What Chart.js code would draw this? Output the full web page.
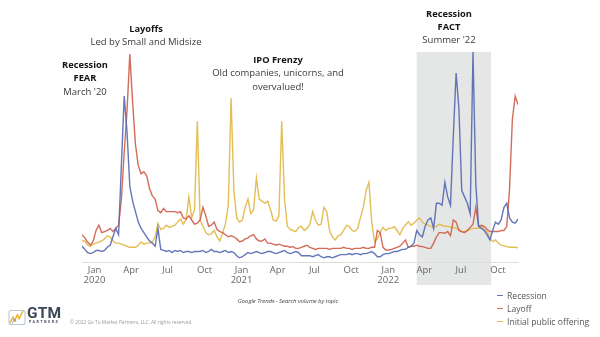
<!DOCTYPE html>
<html><head><meta charset="utf-8">
<script src="https://cdn.jsdelivr.net/npm/chart.js@4.4.0/dist/chart.umd.min.js"></script>
<style>
html,body{margin:0;padding:0;background:#fff;}
#wrap{position:relative;width:600px;height:337px;overflow:hidden;font-family:"Open Sans",sans-serif;}
#c{position:absolute;left:0;top:0;}
.ann{position:absolute;text-align:center;font-size:9.5px;line-height:13.4px;color:#3a3a3a;white-space:nowrap;transform:translateX(-50%);}
.ann b{color:#141414;font-weight:700;font-size:9.3px;}
#cap{position:absolute;left:288px;top:297px;transform:translateX(-50%);font-size:6px;font-style:italic;color:#444;white-space:nowrap;letter-spacing:-0.1px;}
#legend{position:absolute;left:497px;top:290px;font-size:8.6px;color:#555;line-height:12.8px;}
#legend .dash{display:inline-block;width:6px;height:1.5px;vertical-align:middle;margin-right:4px;position:relative;top:-1px;}
#logoIcon{position:absolute;left:8px;top:309px;}
#gtm{position:absolute;left:27px;top:304px;font-family:Roboto,sans-serif;font-weight:700;font-size:15.5px;color:#3c4757;letter-spacing:0.2px;}
#partners{position:absolute;left:29px;top:320px;font-family:Roboto,sans-serif;font-weight:700;font-size:3.6px;letter-spacing:1.55px;color:#3c4757;}
#copy{position:absolute;left:70px;top:319px;font-size:4.8px;color:#9a9a9a;white-space:nowrap;}
</style>
</head><body>
<div id="wrap">
<canvas id="c" width="600" height="337"></canvas>
<div class="ann" style="left:146px;top:22px"><b>Layoffs</b><br>Led by Small and Midsize</div>
<div class="ann" style="left:85px;top:58px"><b>Recession</b><br><b>FEAR</b><br>March '20</div>
<div class="ann" style="left:278px;top:53px"><b>IPO Frenzy</b><br>Old companies, unicorns, and<br>overvalued!</div>
<div class="ann" style="left:449px;top:6.5px"><b>Recession</b><br><b>FACT</b><br>Summer '22</div>
<div id="cap">Google Trends - Search volume by topic</div>
<div id="legend"></div>
<svg id="logoIcon" width="19" height="17" viewBox="0 0 19 17">
  <rect x="1" y="1.5" width="16" height="14" rx="2" fill="none" stroke="#b9c9d8" stroke-width="1.1"/>
  <polyline points="2,14 5,8 6.5,12 9.5,5.5 11,10 15,2" fill="none" stroke="#e9b531" stroke-width="1.5" stroke-linejoin="round"/>
  <polyline points="4,14.5 7,10 8,13" fill="none" stroke="#7fa0c8" stroke-width="1"/>
</svg>
<div id="gtm">GTM</div>
<div id="partners">PARTNERS</div>
<div id="copy">© 2022 Go To Market Partners, LLC. All rights reserved.</div>
</div>
<script>
// Weekly Google Trends search volume, weeks starting 2019-12-01
const startWeek = '2019-12-01';
const seriesNames = ['Recession', 'Layoff', 'Initial public offering'];
const recession = [
  7.6,6,4.5,4,4.5,5.5,5.5,5,5.5,7,
  8,12,16,13,46,79,62,36,29,24,
  19,16,14,12,10,9,7.5,16,6,5.5,
  5,5.5,4.5,5.5,5,5.5,4.5,5,5,4.5,
  5,5,5,5.5,4.5,5,6,5,5,4.5,
  5,5.5,4.5,5,4.5,3,2,2.5,3.5,4.5,
  4,4.5,5,4.5,4,4.5,5,5,4.5,4,
  4.5,5,5.5,4.5,4,4.5,5,4.5,3,3,
  3,3,2.5,3,3.5,2.5,2,2.5,2.5,2,
  2.5,3,3.5,3.5,3.5,4,3.5,4,4,3.5,
  4,4,4.5,5,4,2.5,2.5,3.5,4,4,
  4.5,5,5,5.5,6,6,7,7.5,9,15,
  13,12,17,20,21,16,28,28,27,38,
  31,27,60,90,73,34,31,28,23,100,
  37,17,16,15,13,10.5,15,19,18,20,
  26,28,21,19,18.5,20.5
];
const layoff = [
  13,11.5,9.5,8,10,15,17.5,14,14.5,15,
  16,14.5,16,17.5,30,52,72,99,76,56,
  46,42,43,41,35,31.5,30,24.5,23.5,25.5,
  24,24,24,24,23.5,24,21,20.5,22,20,
  18,18.5,20,26,22,17,17.5,19,15.5,14.5,
  14,13,12,12.5,12,11,9.7,10,11,11.5,
  12.5,13,11,10,10,11,9,9,8.5,8,
  8.5,8,7.5,7.5,7,7.3,6.5,6.5,7,7.5,
  8,7,6.5,6,6.5,6.5,6.5,6.5,6,6.5,
  6.5,6.5,6.5,7,6.5,6.5,6,6.5,6.5,6.5,
  7,6.5,6.5,7,7,15,14,7,5.7,5.7,
  6,6.5,7,7.5,9,10.5,7,7.5,7.5,8,
  7.5,7.3,7,6.5,6.5,9,12,14,14,13.7,
  14.5,12.5,20,19,15,14.5,14,15,16.5,18,
  26,17,17.5,17,15.5,14.5,14.5,14.5,14.5,15,
  15,17,35,68,79,75
];
const ipo = [
  10,10,8,7.5,8.5,9,9.5,10,11,12.5,
  12,10,9,9,8.5,8,7.5,7,7,7,
  8,9.5,8.5,9,9,9.5,12,18.5,15.5,16,
  17.5,16.5,17,17.5,19,20.5,18,20,31,21,
  25,67,20,17,14,13,13.5,15,12,10,
  14,18,27,78,34,21,19,20,26,30,
  23,25,40,30,29,28,29,25,20,19.5,
  22,67,30,17,15.5,15,14.5,16.5,17,15,
  16,18,24,20,17.5,18,26,24,15,12,
  10.5,12.5,13,15,17.5,17,15,14.5,16,21,
  26,34,38,19,9.7,11,14,16.5,15,16,
  16,16.8,15,13,16,17.6,19.2,17.5,18.5,20,
  21,19,18,17.6,17,16.5,17,18,17.5,17,
  17,16.5,16.5,16,15.5,14.5,14.4,15,15.5,16,
  16,16,17,15.5,14.4,11.5,9.7,10.5,9,8,
  7.8,7.3,7,7,7,6.8
];
const tickDates = ['2020-01-01','2020-04-01','2020-07-01','2020-10-01','2021-01-01','2021-04-01','2021-07-01','2021-10-01','2022-01-01','2022-04-01','2022-07-01','2022-10-01'];
const tickLabels = [['Jan','2020'],'Apr','Jul','Oct',['Jan','2021'],'Apr','Jul','Oct',['Jan','2022'],'Apr','Jul','Oct'];
const shadedPeriod = ['2022-03-13','2022-09-14'];
const colors = ['rgba(88,106,178,0.92)','rgba(206,92,72,0.9)','rgba(226,184,70,0.92)'];

const START = Date.parse(startWeek + 'T00:00:00Z');
const wk = d => (Date.parse(d + 'T00:00:00Z') - START) / (7 * 864e5);
const pts = arr => arr.map((v, i) => ({x: i, y: v}));

const shade = {
  id: 'shade',
  beforeDraw(c) {
    const {ctx, chartArea: a, scales: {x}} = c;
    const x0 = x.getPixelForValue(wk(shadedPeriod[0]));
    const x1 = x.getPixelForValue(wk(shadedPeriod[1]));
    ctx.save();
    ctx.fillStyle = '#e5e6e6';
    ctx.fillRect(x0, a.top, x1 - x0, a.bottom + 23 - a.top);
    ctx.restore();
  }
};

Chart.defaults.font.family = "'Open Sans', sans-serif";
const series = [recession, layoff, ipo];
new Chart(document.getElementById('c'), {
  type: 'line',
  data: {
    datasets: series.map((s, k) => ({
      label: seriesNames[k], data: pts(s), borderColor: colors[k],
      borderWidth: 1.4, pointRadius: 0, tension: 0, fill: false
    }))
  },
  options: {
    responsive: false, animation: false, events: [],
    layout: {padding: {left: 82, right: 82, top: 52, bottom: 0}},
    plugins: {legend: {display: false}, tooltip: {enabled: false}},
    scales: {
      x: {
        type: 'linear', min: 0, max: recession.length - 1,
        grid: {display: false, drawTicks: false},
        border: {display: true, color: '#dddddd', width: 1},
        afterBuildTicks: s => { s.ticks = tickDates.map(d => ({value: wk(d)})); },
        afterFit: s => { s.height = 75; },
        ticks: {autoSkip: false, maxRotation: 0, padding: 3, color: '#666',
          font: {size: 9.5, lineHeight: 1.05}, callback: (v, i) => tickLabels[i]}
      },
      y: {display: false, min: 0, max: 100}
    }
  },
  plugins: [shade]
});

const lg = document.getElementById('legend');
seriesNames.forEach((n, k) => {
  const row = document.createElement('div');
  const d = document.createElement('span');
  d.className = 'dash'; d.style.background = colors[k];
  row.appendChild(d); row.appendChild(document.createTextNode(n));
  lg.appendChild(row);
});
</script>
</body></html>
